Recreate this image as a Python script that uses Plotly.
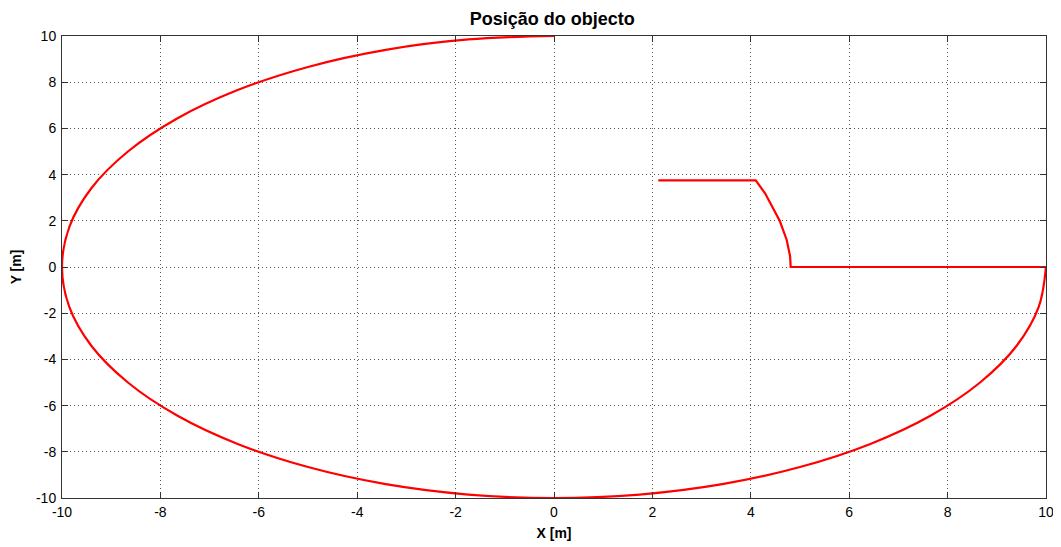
import plotly.graph_objects as go

# Path: horizontal segment, arc, horizontal segment
path_x = [2.12, 4.1, 4.29, 4.46, 4.59, 4.73, 4.8, 4.81, 10.0]
path_y = [3.75, 3.75, 3.19, 2.47, 1.99, 1.17, 0.45, 0.0, 0.0]

# Large loop (clockwise from (10,0) to (0,10))
loop_x = [10.0, 9.85, 9.40, 8.66, 7.66, 6.43, 5.0, 3.42, 1.74, 0.0,
          -1.74, -3.42, -5.0, -6.43, -7.66, -8.66, -9.40, -9.85, -10.0,
          -9.85, -9.40, -8.66, -7.66, -6.43, -5.0, -3.42, -1.74, 0.0]
loop_y = [0.0, -1.74, -3.42, -5.0, -6.43, -7.66, -8.66, -9.40, -9.85, -10.0,
          -9.85, -9.40, -8.66, -7.66, -6.43, -5.0, -3.42, -1.74, 0.0,
          1.74, 3.42, 5.0, 6.43, 7.66, 8.66, 9.40, 9.85, 10.0]

tick_vals = [-10, -8, -6, -4, -2, 0, 2, 4, 6, 8, 10]
tick_text = ["-10", "-8", "-6", "-4", "-2", "0", "2", "4", "6", "8", "10"]

FONT = "Liberation Sans, Arial, sans-serif"

fig = go.Figure()
fig.add_trace(go.Scatter(x=path_x, y=path_y, mode="lines",
                         line=dict(color="rgb(255,0,0)", width=2.2),
                         showlegend=False, hoverinfo="skip"))
fig.add_trace(go.Scatter(x=loop_x, y=loop_y, mode="lines",
                         line=dict(color="rgb(255,0,0)", width=2.2, shape="spline"),
                         showlegend=False, hoverinfo="skip"))

axis_common = dict(
    tickvals=tick_vals, ticktext=tick_text,
    ticks="inside", ticklen=6, tickcolor="#333333", tickwidth=1,
    showline=True, linecolor="#333333", linewidth=1, mirror="ticks",
    showgrid=True, gridcolor="#555555", griddash="1px,3px", gridwidth=1,
    zeroline=False, automargin=False,
    tickfont=dict(family=FONT, size=14, color="#000000"),
)

# The page places the figure 8px from the top-left corner, margins compensate.
fig.update_layout(
    width=1061, height=547,
    margin=dict(l=54, r=23, t=28, b=57, autoexpand=False),
    paper_bgcolor="white", plot_bgcolor="white",
    title=dict(text="<b>Posição do objecto</b>", x=0.513, xanchor="center",
               xref="container", yref="container",
               y=0.980, yanchor="middle",
               font=dict(family=FONT, size=18, color="#000000")),
    xaxis=dict(range=[-10, 10], **axis_common, ticklabelstandoff=1,
               title=dict(text="<b>X [m]</b>", standoff=9,
                          font=dict(family=FONT, size=14, color="#000000"))),
    yaxis=dict(range=[-10, 10], **axis_common, ticklabelstandoff=2,
               title=dict(text="<b>Y [m]</b>", standoff=16,
                          font=dict(family=FONT, size=14, color="#000000"))),
)

fig.write_html("out.html")
